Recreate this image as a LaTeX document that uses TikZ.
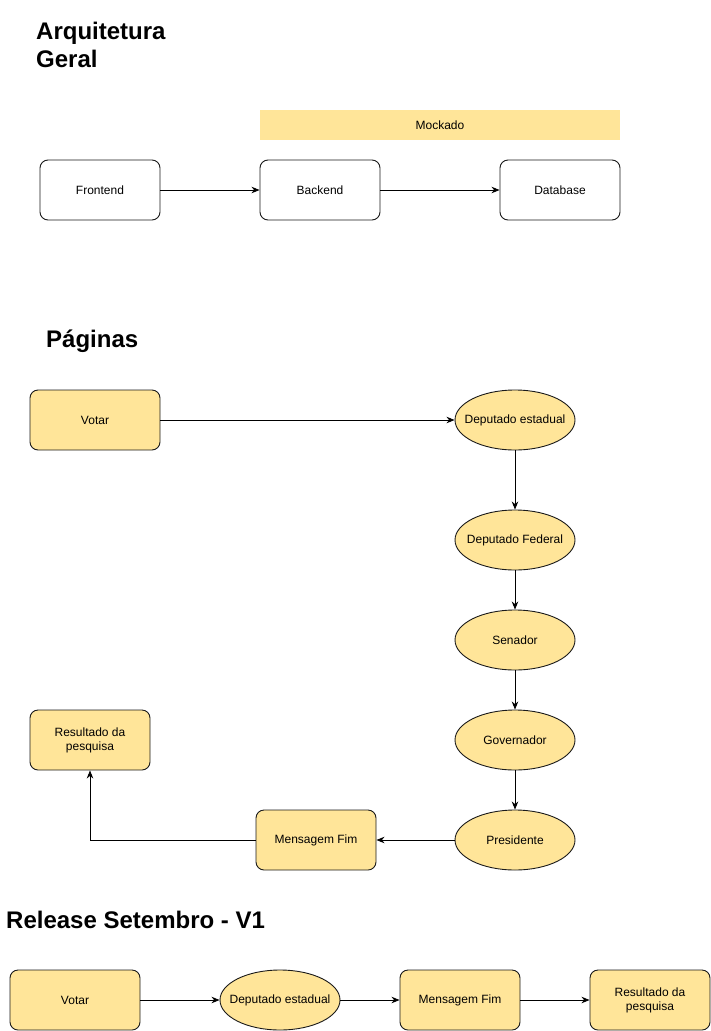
\documentclass[tikz,border=0pt]{standalone}
\usepackage{fontspec}
\setmainfont{Liberation Sans}
\usetikzlibrary{arrows.meta,shapes.geometric}
\definecolor{boxfill}{HTML}{FFE599}
\definecolor{boxline}{HTML}{1A1A1A}
\newcommand{\zw}[1]{\makebox[0pt]{#1}}
\begin{document}
\begin{tikzpicture}[x=1pt,y=-1pt,
  base/.style={draw=boxline,line width=0.9pt,inner sep=0pt,font=\fontsize{12}{14}\selectfont,align=center},
  wbox/.style={base,rounded corners=8pt,fill=white,minimum width=120pt,minimum height=60pt},
  ybox/.style={base,rounded corners=8pt,fill=boxfill,minimum width=120pt,minimum height=60pt},
  yell/.style={base,ellipse,fill=boxfill,minimum width=120pt,minimum height=60pt},
  title/.style={font=\fontsize{24}{28}\selectfont\bfseries,inner sep=0pt,align=left},
  conn/.style={line width=0.9pt,-{Stealth[length=8pt,width=6.5pt,inset=2.5pt]}}
]
\useasboundingbox (0,0) rectangle (711,1031);
% titles
\node[title,anchor=base west] (t1) at (36,39) {Arquitetura};
\node[title,anchor=base west] (t1b) at (36,67) {Geral};
\node[title,anchor=base west] (t2) at (46,347) {Páginas};
\node[title,anchor=base west] (t3) at (6,928) {Release Setembro - V1};
% architecture
\node[fill=boxfill,minimum width=360pt,minimum height=30pt,inner sep=0pt,font=\fontsize{12}{14}\selectfont] (mock) at (440,125) {Mockado};
\node[wbox] (fe) at (100,190) {Frontend};
\node[wbox] (be) at (320,190) {Backend};
\node[wbox] (db) at (560,190) {Database};
\draw[conn] (fe) -- (be);
\draw[conn] (be) -- (db);
% pages
\node[ybox,minimum width=130pt] (vot) at (95,420) {Votar};
\node[yell] (de) at (515,420) {\zw{Deputado estadual}};
\node[yell] (df) at (515,540) {\zw{Deputado Federal}};
\node[yell] (sen) at (515,640) {\zw{Senador}};
\node[yell] (gov) at (515,740) {\zw{Governador}};
\node[yell] (pre) at (515,840) {\zw{Presidente}};
\node[ybox] (msg) at (316,840) {Mensagem Fim};
\node[ybox] (res) at (90,740) {Resultado da\\pesquisa};
\draw[conn] (vot) -- (de);
\draw[conn] (de) -- (df);
\draw[conn] (df) -- (sen);
\draw[conn] (sen) -- (gov);
\draw[conn] (gov) -- (pre);
\draw[conn] (pre) -- (msg);
\draw[conn] (msg.west) -| (res.south);
% release
\node[ybox,minimum width=130pt] (rv) at (75,1000) {Votar};
\node[yell] (rd) at (280,1000) {\zw{Deputado estadual}};
\node[ybox] (rm) at (460,1000) {Mensagem Fim};
\node[ybox] (rr) at (650,1000) {Resultado da\\pesquisa};
\draw[conn] (rv) -- (rd);
\draw[conn] (rd) -- (rm);
\draw[conn] (rm) -- (rr);
\end{tikzpicture}
\end{document}
